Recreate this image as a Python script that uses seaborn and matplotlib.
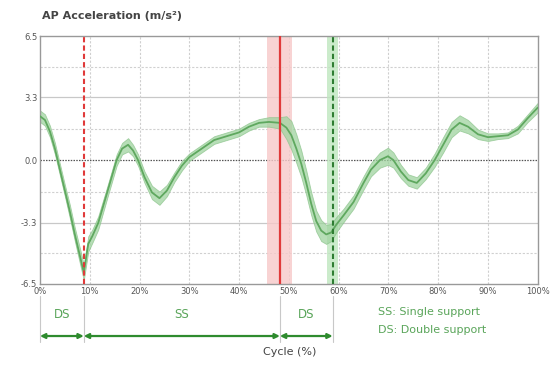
import numpy as np
import pandas as pd
import matplotlib
matplotlib.use("Agg")
import matplotlib.pyplot as plt
import seaborn as sns

# ---- data ----
cycle = [0, 1, 2, 3, 4, 5, 6, 7, 8, 8.8, 9.7, 10.5, 11.7, 13.5, 15.4, 16.5, 17.7, 18.7, 19.7, 21, 22.5, 24, 25.5, 27,
         28.5, 30, 32.5, 35, 37.5, 40, 42, 44, 46, 48.2, 49.5, 50.5, 51.5, 52.5, 53.5, 54.5, 55.5, 56.5, 57.5, 58.5,
         59.5, 61, 63, 65, 66.5, 68.3, 69.9, 71, 72.5, 74, 75.7, 77.5, 79.3, 81, 82.7, 84.3, 86, 88, 90, 92, 94, 96,
         98, 100]
accel_mean = [2.3, 2.1, 1.5, 0.6, -0.5, -1.6, -2.7, -3.9, -5.0, -5.9, -4.4, -4.0, -3.3, -1.7, 0.0, 0.6, 0.8, 0.5, 0.0,
              -0.9, -1.7, -2.0, -1.6, -0.9, -0.3, 0.15, 0.6, 1.05, 1.25, 1.45, 1.75, 1.95, 2.0, 1.95, 1.7, 1.3, 0.6,
              -0.2, -1.2, -2.3, -3.2, -3.7, -3.9, -3.8, -3.4, -2.9, -2.2, -1.2, -0.5, 0.0, 0.2, 0.0, -0.6, -1.05,
              -1.2, -0.7, 0.0, 0.8, 1.6, 1.95, 1.75, 1.35, 1.2, 1.25, 1.3, 1.6, 2.2, 2.75]
accel_sd = [0.3, 0.3, 0.3, 0.3, 0.3, 0.3, 0.35, 0.35, 0.4, 0.4, 0.4, 0.35, 0.35, 0.3, 0.3, 0.3, 0.35, 0.3, 0.3, 0.3,
            0.35, 0.35, 0.3, 0.25, 0.25, 0.2, 0.2, 0.2, 0.2, 0.2, 0.2, 0.2, 0.25, 0.3, 0.6, 0.75, 0.75, 0.7, 0.65,
            0.6, 0.55, 0.55, 0.5, 0.45, 0.4, 0.35, 0.35, 0.35, 0.35, 0.4, 0.45, 0.4, 0.35, 0.3, 0.3, 0.3, 0.35,
            0.4, 0.4, 0.4, 0.35, 0.25, 0.2, 0.15, 0.15, 0.2, 0.2, 0.25]

x_ticks = [0, 10, 20, 30, 40, 50, 60, 70, 80, 90, 100]
x_tick_labels = ["0%", "10%", "20%", "30%", "40%", "50%", "60%", "70%", "80%", "90%", "100%"]
y_ticks = [-6.5, -3.3, 0.0, 3.3, 6.5]
y_tick_labels = ["-6.5", "-3.3", "0.0", "3.3", "6.5"]

heel_contact = 8.8          # red dashed line
toe_off = 48.2              # red solid line
toe_off_range = (45.6, 50.6)
opp_contact = 58.8          # green dashed line
opp_contact_range = (57.6, 59.8)

phase_bounds = [0, 8.8, 48.2, 58.8]
phase_labels = ["DS", "SS", "DS"]

title = "AP Acceleration (m/s²)"
xlabel = "Cycle (%)"
legend_lines = ["SS: Single support", "DS: Double support"]

# ---- plotting ----
sns.set_theme(style="white")
plt.rcParams['font.family'] = ['DejaVu Sans']

green = "#5fa85f"
green_fill = "#9fd49f"
red = "#e03a3a"
text_green = "#5aa55a"

fig = plt.figure(figsize=(5.5, 3.65), dpi=100)
ax = fig.add_axes([0.0727, 0.222, 0.905, 0.679])

df = pd.DataFrame({"cycle": cycle, "mean": accel_mean, "sd": accel_sd})
lo = df["mean"] - df["sd"]
hi = df["mean"] + df["sd"]

# grid
for yv in [-4.9, -1.65, 1.65, 4.9]:
    ax.axhline(yv, color="#d0d0d0", lw=0.8, ls=(0, (2, 1.5)), zorder=0)
for yv in [-3.3, 3.3]:
    ax.axhline(yv, color="#c8c8c8", lw=0.9, zorder=0)
for xv in x_ticks[1:-1]:
    ax.axvline(xv, color="#cfcfcf", lw=0.8, ls=(0, (2, 1.5)), zorder=0)
ax.axhline(0, color="#555555", lw=0.9, ls=(0, (1.2, 1.0)), zorder=1)

# event bands and lines
ax.axvspan(*toe_off_range, color="#f7c9c9", alpha=0.8, lw=0, zorder=1)
ax.axvspan(*opp_contact_range, color="#bfe6bf", alpha=0.8, lw=0, zorder=1)

ax.fill_between(df["cycle"], lo, hi, color=green_fill, alpha=0.75, lw=0.6, edgecolor="#8cc48c", zorder=2)
sns.lineplot(data=df, x="cycle", y="mean", ax=ax, color=green, lw=1.3, zorder=3)

ax.axvline(heel_contact, color=red, lw=1.5, ls=(0, (2.5, 1.5)), zorder=4)
ax.axvline(toe_off, color=red, lw=1.6, zorder=4)
ax.axvline(opp_contact, color="#2e7d32", lw=1.5, ls=(0, (2.5, 1.5)), zorder=4)

ax.set_xlim(0, 100)
ax.set_ylim(-6.5, 6.5)
ax.set_xticks(x_ticks)
ax.set_xticklabels(x_tick_labels, fontsize=6, color="#555555")
ax.set_yticks(y_ticks)
ax.set_yticklabels(y_tick_labels, fontsize=6, color="#555555")
ax.tick_params(axis="both", length=0, pad=2)
ax.set_xlabel("")
ax.set_ylabel("")
for s in ax.spines.values():
    s.set_color("#999999")
    s.set_linewidth(1.0)

fig.text(0.076, 0.955, title, fontsize=8, color="#444444", fontweight="bold", ha="left", va="center")

# phase annotations below axes
trans = ax.get_xaxis_transform()
for b in phase_bounds:
    ax.plot([b, b], [-0.05, -0.235], transform=trans, color="#c8c8c8", lw=0.8, clip_on=False)
for i, lab in enumerate(phase_labels):
    x0, x1 = phase_bounds[i], phase_bounds[i + 1]
    ax.text((x0 + x1) / 2, -0.125, lab, transform=trans, ha="center", va="center",
            fontsize=8.5, color=text_green)
    ax.annotate("", xy=(x1, -0.21), xytext=(x0, -0.21), xycoords=trans, textcoords=trans,
                arrowprops=dict(arrowstyle="<|-|>", color="#2e8b2e", lw=1.6,
                                mutation_scale=7, shrinkA=0, shrinkB=0))

ax.text(68, -0.115, legend_lines[0], transform=trans, ha="left", va="center", fontsize=8, color=text_green)
ax.text(68, -0.185, legend_lines[1], transform=trans, ha="left", va="center", fontsize=8, color=text_green)

fig.text(0.527, 0.035, xlabel, ha="center", va="center", fontsize=8, color="#444444")

fig.savefig("out.png", dpi=100)
